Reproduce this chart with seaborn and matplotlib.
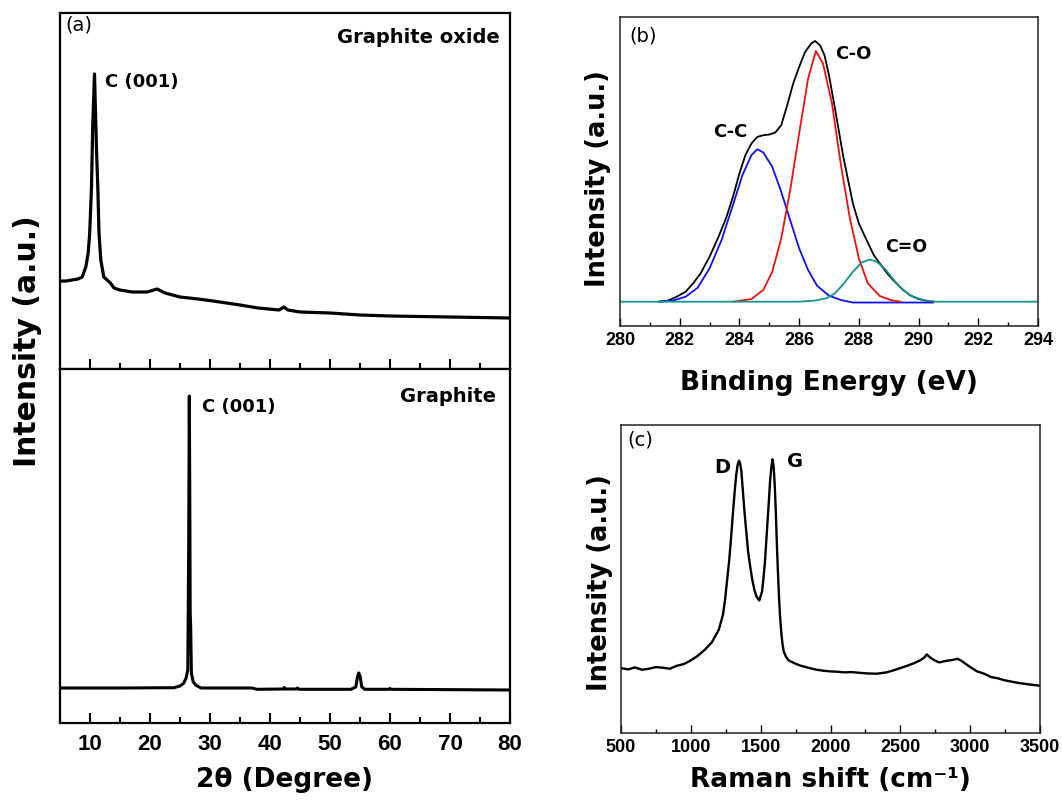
import matplotlib
matplotlib.use("Agg")
import matplotlib.pyplot as plt
from matplotlib.ticker import MultipleLocator
import seaborn as sns

# ---------------- data ----------------
# (a) XRD, graphite oxide
go_2theta = [5.0, 6.0, 7.0, 8.0, 8.7, 9.3, 9.7, 9.95, 10.25, 10.45, 10.75, 11.1,
             11.3, 11.5, 11.8, 12.3, 13.4, 14.0, 15.0, 17.0, 19.5, 21.2, 22.5,
             25.0, 28.0, 30.5, 35.0, 38.0, 41.5, 42.3, 43.0, 45.0, 50.0, 55.0,
             60.0, 70.0, 80.0]
go_int = [880, 880, 890, 900, 920, 1020, 1160, 1360, 1820, 2420, 2950, 2160,
          1820, 1360, 1090, 920, 860, 810, 790, 770, 770, 800, 760,
          720, 700, 680, 640, 610, 590, 620, 590, 570, 560, 540,
          530, 520, 510]

# (a) XRD, graphite
gr_2theta = [5.0, 15.0, 24.0, 25.0, 25.6, 26.0, 26.3, 26.45, 26.55, 26.63, 26.7,
             26.78, 26.9, 27.2, 27.6, 28.5, 37.0, 37.8, 42.3, 42.4, 42.5, 44.4,
             44.6, 44.8, 53.5, 54.3, 54.6, 54.8, 55.0, 55.3, 55.8, 59.8, 60.0,
             60.2, 80.0]
gr_int = [350, 350, 353, 370, 397, 447, 530, 1813, 3270, 2297, 1097,
          963, 497, 413, 380, 350, 350, 337, 340, 355, 340, 340,
          350, 337, 337, 360, 470, 500, 470, 360, 337, 337, 345,
          337, 330]

# (b) XPS C1s
be_env = [281.3, 281.6, 281.9, 282.2, 282.45, 282.7, 283.0, 283.3, 283.57, 283.8,
          284.0, 284.2, 284.4, 284.6, 284.8, 285.0, 285.2, 285.4, 285.6, 285.8,
          286.0, 286.2, 286.4, 286.53, 286.7, 286.85, 287.0, 287.2, 287.48, 287.8,
          288.0, 288.26, 288.5, 288.7, 288.95, 289.15, 289.45, 289.7, 290.0,
          290.3, 290.5]
int_env = [0, 30, 150, 300, 550, 850, 1350, 1950, 2550, 3200,
           3850, 4400, 4750, 4950, 5000, 5020, 5080, 5300, 5900, 6550,
           7050, 7500, 7750, 7830, 7700, 7400, 6800, 5800, 4350, 2950,
           2350, 1850, 1400, 1150, 850, 650, 380, 200, 80,
           20, 0]
be_cc = [281.3, 281.8, 282.2, 282.6, 283.0, 283.4, 283.8, 284.1, 284.4, 284.6,
         284.8, 285.1, 285.4, 285.7, 286.0, 286.3, 286.6, 287.0, 287.4, 287.8,
         290.5]
int_cc = [0, 40, 150, 420, 1000, 1850, 2950, 3800, 4400, 4580,
          4480, 4050, 3300, 2450, 1600, 950, 480, 180, 50, -25,
          -25]
be_co = [283.8, 284.4, 284.8, 285.1, 285.4, 285.7, 286.0, 286.3, 286.56, 286.8,
         287.1, 287.4, 287.7, 288.0, 288.3, 288.7, 289.1, 289.4]
int_co = [0, 80, 350, 900, 1900, 3350, 5050, 6700, 7530, 7150,
          5950, 4100, 2500, 1300, 550, 170, 40, 0]
be_c_o = [280.0, 286.0, 286.5, 286.9, 287.2, 287.5, 287.8, 288.1, 288.37, 288.6,
          288.9, 289.2, 289.5, 289.8, 290.2, 290.6, 294.0]
int_c_o = [0, 0, 30, 100, 250, 550, 900, 1180, 1270, 1200,
           960, 620, 330, 150, 40, 0, 0]

# (c) Raman
raman_shift = [500, 550, 600, 650, 700, 750, 800, 850, 900, 950, 1000, 1050,
               1100, 1150, 1200, 1230, 1245, 1260, 1275, 1285, 1295, 1305, 1315,
               1325, 1335, 1345, 1353, 1362, 1372, 1385, 1398, 1410, 1425, 1440,
               1455, 1470, 1490, 1510, 1520, 1530, 1540, 1550, 1560, 1568, 1577,
               1585, 1593, 1600, 1608, 1615, 1622, 1630, 1638, 1648, 1656, 1665,
               1680, 1700, 1740, 1780, 1840, 1900, 1950, 2000, 2050, 2100, 2150,
               2200, 2260, 2330, 2400, 2450, 2500, 2550, 2600, 2640, 2670, 2690,
               2710, 2730, 2760, 2780, 2820, 2850, 2880, 2910, 2940, 2960, 3000,
               3050, 3100, 3150, 3200, 3250, 3300, 3350, 3420, 3500]
raman_int = [195, 191, 197, 190, 193, 198, 196, 193, 202, 207, 218, 232,
             250, 272, 310, 355, 400, 460, 520, 570, 625, 680, 730,
             775, 805, 818, 810, 785, 730, 660, 600, 545, 500, 460,
             430, 410, 398, 425, 465, 510, 575, 640, 705, 760, 800,
             822, 800, 750, 670, 580, 500, 420, 355, 300, 268, 245,
             230, 218, 210, 203, 196, 190, 187, 185, 184, 182, 183,
             181, 179, 178, 182, 188, 195, 202, 210, 218, 226, 236,
             228, 222, 215, 212, 216, 218, 220, 223, 216, 210, 198,
             185, 178, 168, 164, 158, 154, 150, 146, 142]

# tick labels
a_ticks = [10, 20, 30, 40, 50, 60, 70, 80]
b_ticks = [280, 282, 284, 286, 288, 290, 292, 294]
c_ticks = [500, 1000, 1500, 2000, 2500, 3000, 3500]

# ---------------- styling ----------------
sns.set_theme(style="white")
plt.rcParams["font.family"] = ["DejaVu Sans"]
plt.rcParams["text.color"] = "black"
plt.rcParams["axes.labelcolor"] = "black"
plt.rcParams["xtick.color"] = "black"
plt.rcParams["ytick.color"] = "black"

LAB = dict(family="DejaVu Sans", weight="bold", color="black")
TICKF = dict(fontfamily="Liberation Sans", fontweight="bold", color="black")

fig = plt.figure(figsize=(10.62, 8.05), dpi=100)
W, H = 1062.0, 805.0


def box(l, t, r, b):
    return [l / W, 1 - b / H, (r - l) / W, (b - t) / H]


ax_go = fig.add_axes(box(60, 13, 510, 369))
ax_gr = fig.add_axes(box(60, 369, 510, 723))
ax_b = fig.add_axes(box(620, 17, 1038, 326))
ax_c = fig.add_axes(box(621, 425, 1040, 733))

# ---- panel (a) ----
sns.lineplot(x=go_2theta, y=go_int, ax=ax_go, color="black", lw=2.3,
             estimator=None, sort=False)
sns.lineplot(x=gr_2theta, y=gr_int, ax=ax_gr, color="black", lw=2.2,
             estimator=None, sort=False)
for ax, ylim in ((ax_go, (0, 3560)), (ax_gr, (0, 3540))):
    ax.set_xlim(5, 80)
    ax.set_ylim(*ylim)
    ax.set_yticks([])
    ax.xaxis.set_minor_locator(MultipleLocator(5))
    ax.set_xticks(a_ticks, labels=[str(t) for t in a_ticks], fontsize=16, **TICKF)
    ax.tick_params(axis="x", which="major", direction="in", length=7, width=1.5,
                   bottom=True, top=False, pad=8, colors="black")
    ax.tick_params(axis="x", which="minor", direction="in", length=4, width=1.5,
                   bottom=True, top=False)
    for s in ax.spines.values():
        s.set_linewidth(1.6)
        s.set_color("black")
ax_go.tick_params(axis="x", labelbottom=False)

ax_go.text(0.011, 0.965, "(a)", transform=ax_go.transAxes, fontsize=14,
           family="DejaVu Sans", color="black", ha="left", va="center")
ax_go.text(0.978, 0.93, "Graphite oxide", transform=ax_go.transAxes,
           fontsize=14, ha="right", va="center", **LAB)
ax_go.text(12.5, 2870, "C (001)", fontsize=13, ha="left", va="center", **LAB)
ax_gr.text(0.969, 0.921, "Graphite", transform=ax_gr.transAxes,
           fontsize=14, ha="right", va="center", **LAB)
ax_gr.text(28.7, 3160, "C (001)", fontsize=13, ha="left", va="center", **LAB)

ax_go.set_ylabel("Intensity (a.u.)", fontsize=21.5, **LAB)
ax_go.yaxis.set_label_coords(-0.04, 0.079)
ax_gr.set_xlabel("2θ (Degree)", fontsize=19, **LAB)
ax_gr.xaxis.set_label_coords(0.5, -0.125)

# ---- panel (b) ----
sns.lineplot(x=be_env, y=int_env, ax=ax_b, color="black", lw=1.3,
             estimator=None, sort=False)
sns.lineplot(x=be_cc, y=int_cc, ax=ax_b, color="#1010ee", lw=1.3,
             estimator=None, sort=False)
sns.lineplot(x=be_co, y=int_co, ax=ax_b, color="#ee1010", lw=1.3,
             estimator=None, sort=False)
sns.lineplot(x=be_c_o, y=int_c_o, ax=ax_b, color="#16958a", lw=1.3,
             estimator=None, sort=False)
ax_b.set_xlim(280, 294)
ax_b.set_ylim(-730, 8550)
ax_b.set_yticks([])
ax_b.xaxis.set_minor_locator(MultipleLocator(1))
ax_b.set_xticks(b_ticks, labels=[str(t) for t in b_ticks], fontsize=13, **TICKF)
ax_b.text(0.055, 0.94, "(b)", transform=ax_b.transAxes, fontsize=14,
          family="DejaVu Sans", color="black", ha="center", va="center")
ax_b.text(283.68, 5090, "C-C", fontsize=13, ha="center", va="center", **LAB)
ax_b.text(287.8, 7450, "C-O", fontsize=13, ha="center", va="center", **LAB)
ax_b.text(289.6, 1650, "C=O", fontsize=12.5, ha="center", va="center", **LAB)
ax_b.set_ylabel("Intensity (a.u.)", fontsize=18.5, **LAB)
ax_b.yaxis.set_label_coords(-0.022, 0.476)
ax_b.set_xlabel("Binding Energy (eV)", fontsize=19, **LAB)
ax_b.xaxis.set_label_coords(0.5, -0.142)

# ---- panel (c) ----
sns.lineplot(x=raman_shift, y=raman_int, ax=ax_c, color="black", lw=1.7,
             estimator=None, sort=False)
ax_c.set_xlim(500, 3500)
ax_c.set_ylim(0, 925)
ax_c.set_yticks([])
ax_c.xaxis.set_minor_locator(MultipleLocator(250))
ax_c.set_xticks(c_ticks, labels=[str(t) for t in c_ticks], fontsize=13, **TICKF)
ax_c.text(0.045, 0.95, "(c)", transform=ax_c.transAxes, fontsize=14,
          family="DejaVu Sans", color="black", ha="center", va="center")
ax_c.text(1223, 796, "D", fontsize=14, ha="center", va="center", **LAB)
ax_c.text(1745, 814, "G", fontsize=14, ha="center", va="center", **LAB)
ax_c.set_ylabel("Intensity (a.u.)", fontsize=18.5, **LAB)
ax_c.yaxis.set_label_coords(-0.019, 0.49)
ax_c.set_xlabel("Raman shift (cm⁻¹)", fontsize=19, **LAB)
ax_c.xaxis.set_label_coords(0.5, -0.11)

for ax in (ax_b, ax_c):
    ax.tick_params(axis="x", which="major", direction="in", length=6, width=1.0,
                   bottom=True, top=False, pad=4, colors="black")
    ax.tick_params(axis="x", which="minor", direction="in", length=3, width=1.0,
                   bottom=True, top=False)
    for s in ax.spines.values():
        s.set_linewidth(1.1)
        s.set_color("#222222")

fig.savefig("out.png", dpi=100)
